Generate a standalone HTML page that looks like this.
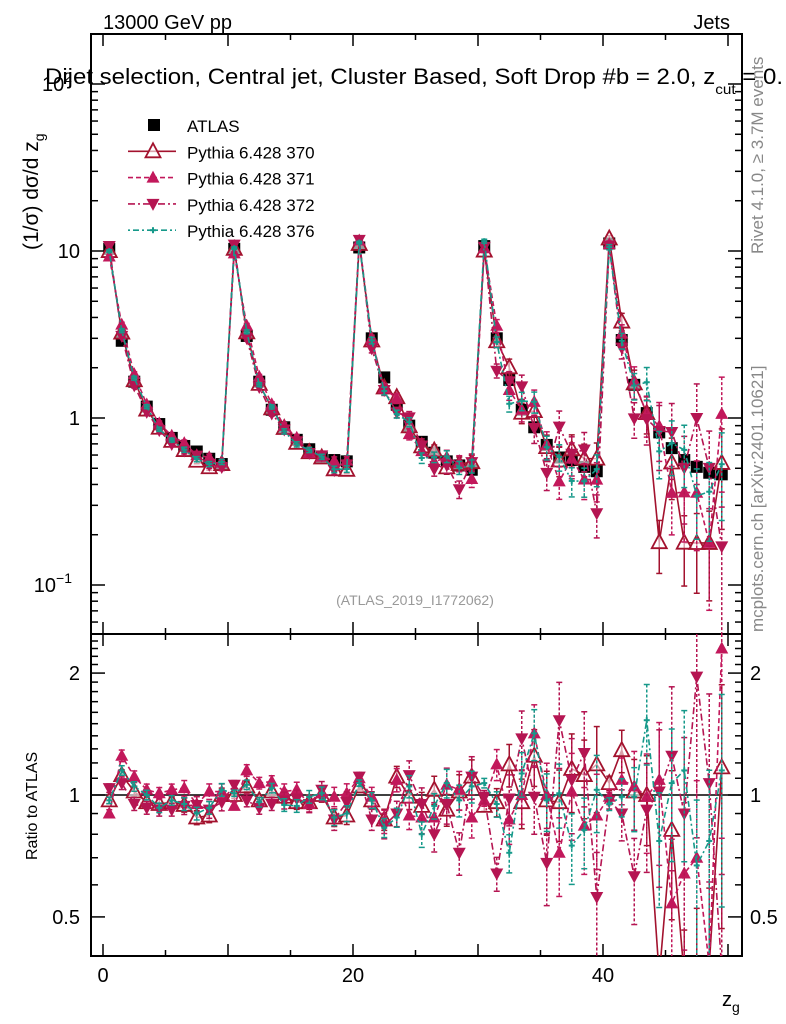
<!DOCTYPE html>
<html><head><meta charset="utf-8"><style>
html,body{margin:0;padding:0;background:#fff;width:786px;height:1024px;overflow:hidden}
svg{display:block;font-family:"Liberation Sans",sans-serif}
</style></head><body>
<svg id="chart" width="786" height="1024" viewBox="0 0 786 1024" xmlns="http://www.w3.org/2000/svg">
<defs>
<clipPath id="cm"><rect x="91" y="34" width="651" height="600"/></clipPath>
<clipPath id="cr"><rect x="91" y="634" width="651" height="322"/></clipPath>
</defs>
<text x="103" y="29" font-size="20">13000 GeV pp</text>
<text x="730" y="29" font-size="20" text-anchor="end">Jets</text>
<g id="axes"></g>
<g id="main" clip-path="url(#cm)"></g>
<g id="ratio" clip-path="url(#cr)"></g>
<text x="45" y="84" font-size="22" textLength="738" lengthAdjust="spacingAndGlyphs">Dijet selection, Central jet, Cluster Based, Soft Drop #b = 2.0, z<tspan font-size="14" dy="10">cut</tspan><tspan dy="-10"> = 0.</tspan></text>
<text transform="translate(38,250) rotate(-90)" font-size="21">(1/σ) dσ/d z<tspan font-size="14" dy="6">g</tspan></text>
<text transform="translate(37,860) rotate(-90)" font-size="16">Ratio to ATLAS</text>
<text x="722" y="1006" font-size="20">z<tspan font-size="14" dy="6">g</tspan></text>
<text transform="translate(763,254) rotate(-90)" font-size="17" fill="#888">Rivet 4.1.0, ≥ 3.7M events</text>
<text transform="translate(763,632) rotate(-90)" font-size="17" fill="#888">mcplots.cern.ch [arXiv:2401.10621]</text>
<text x="415" y="605" font-size="14" fill="#999" text-anchor="middle">(ATLAS_2019_I1772062)</text>
<g id="legend"></g>
</svg>
<script>
const bins = Array.from({length:50},(_, i)=>i+0.5);
const atlas = [10.3,2.9,1.65,1.17,0.92,0.76,0.68,0.63,0.57,0.53,
 10.3,3.1,1.65,1.12,0.88,0.74,0.65,0.58,0.56,0.55,
 10.5,3.0,1.75,1.2,0.9,0.72,0.62,0.55,0.52,0.49,
 10.7,3.0,1.69,1.12,0.88,0.69,0.58,0.56,0.51,0.48,
 11.1,2.93,1.58,1.07,0.82,0.66,0.56,0.51,0.47,0.46];
const r370 = [0.97,1.12,1.02,0.96,0.95,0.96,0.945,0.88,0.89,1.0,
 1.0,1.05,0.97,1.02,0.99,0.96,0.96,1.0,0.88,0.89,
 1.05,0.97,0.87,1.11,0.99,0.94,1.03,0.92,1.02,1.11,
 0.94,0.96,1.19,0.96,1.25,0.97,0.96,1.16,1.12,1.19,
 1.07,1.29,1.02,1.0,0.22,0.82,0.32,0.35,0.38,1.17];
const r371 = [0.9,1.25,1.11,1.03,1.01,1.03,1.04,0.95,1.02,1.02,
 0.94,1.15,1.07,1.08,1.02,1.03,0.95,1.01,0.99,1.01,
 1.1,0.99,0.86,1.09,0.89,0.88,0.88,1.06,1.03,0.88,
 0.97,1.19,0.87,1.0,1.42,1.0,0.72,1.02,0.84,0.89,
 0.99,1.09,1.05,0.99,1.09,0.54,0.64,0.7,0.38,2.3];
const r372 = [1.04,1.07,0.95,0.93,0.92,0.92,0.94,0.945,0.92,0.96,
 1.06,0.97,0.93,0.95,0.97,0.98,0.95,1.03,0.87,0.96,
 1.11,0.87,0.84,0.9,1.12,0.95,0.8,0.95,0.72,1.11,
 0.99,0.64,0.98,1.38,0.99,0.68,1.53,1.09,1.27,0.56,
 0.97,0.9,0.63,0.92,1.02,1.25,0.9,1.96,1.07,0.37];
const r376 = [0.97,1.15,1.05,1.0,0.93,0.97,0.95,0.9,0.93,1.03,
 1.01,1.06,0.96,1.04,0.945,0.94,0.99,1.01,0.88,0.9,
 1.07,0.97,0.83,0.88,1.05,0.8,0.94,1.07,0.97,1.05,
 1.07,0.95,0.72,1.13,1.42,0.97,1.01,0.75,0.82,1.03,
 0.95,0.99,0.99,1.53,0.77,1.07,1.15,0.67,0.77,1.15];
const mcErr = [0.02,0.03,0.03,0.03,0.03,0.03,0.04,0.04,0.04,0.04,
 0.02,0.03,0.03,0.03,0.04,0.04,0.04,0.04,0.05,0.05,
 0.02,0.05,0.06,0.06,0.07,0.08,0.08,0.09,0.1,0.1,
 0.03,0.08,0.12,0.14,0.16,0.18,0.2,0.22,0.22,0.24,
 0.04,0.12,0.2,0.25,0.35,0.4,0.45,0.5,0.55,0.6];
const xTicks = [0,20,40];
const yTicksMain = [[100,'10','2'],[10,'10',''],[1,'1',''],[0.1,'10','−1']];
const yTicksRatio = [[2,'2'],[1,'1'],[0.5,'0.5']];

const NS='http://www.w3.org/2000/svg';
const X0=91,X1=742,MT=34,MB=634,RT=634,RB=956;
const xs=v=>103+12.5*v;
const ymRaw=v=>418-167*Math.log10(v);
const yrRaw=v=>795-405*Math.log10(v);
const ym=v=>Math.min(MB+20,Math.max(MT-20,ymRaw(Math.max(v,1e-4))));
const yr=v=>Math.min(RB+20,Math.max(RT-20,yrRaw(Math.max(v,1e-4))));
function mk(tag,attrs,parent){const e=document.createElementNS(NS,tag);for(const k in attrs)e.setAttribute(k,attrs[k]);parent.appendChild(e);return e;}
const axes=document.getElementById('axes'),main=document.getElementById('main'),ratio=document.getElementById('ratio');

let f1=mk('rect',{x:X0,y:MT,width:X1-X0,height:MB-MT,fill:'none',stroke:'#000','stroke-width':2},axes);


let f2=mk('rect',{x:X0,y:RT,width:X1-X0,height:RB-RT,fill:'none',stroke:'#000','stroke-width':2},axes);


for(let v=0;v<=50;v+=5){const x=xs(v);const L=(v%10===0)?12:6;
 [[MT,MT+L],[MB,MB-L],[RT,RT+L],[RB,RB-L]].forEach(p=>mk('line',{x1:x,x2:x,y1:p[0],y2:p[1],stroke:'#000','stroke-width':1.5},axes));}
xTicks.forEach(v=>{const t=mk('text',{x:xs(v),y:982,'font-size':20,'text-anchor':'middle'},axes);t.textContent=v;
 
 });
for(let d=-2;d<=2;d++)for(let m=1;m<10;m++){const v=m*Math.pow(10,d);const y=ymRaw(v);if(y<MT||y>MB)continue;const L=m===1?14:7;
 mk('line',{x1:X0,x2:X0+L,y1:y,y2:y,stroke:'#000','stroke-width':1.5},axes);mk('line',{x1:X1,x2:X1-L,y1:y,y2:y,stroke:'#000','stroke-width':1.5},axes);}
yTicksMain.forEach(t=>{const e=mk('text',{x:t[2]?72:80,y:ymRaw(t[0])+7,'font-size':20,'text-anchor':'end'},axes);e.textContent=t[1];
 if(t[2]){const s=mk('tspan',{dy:-9,'font-size':14},e);s.textContent=t[2];}
 
 });
for(let v=0.4;v<=2.5;v+=0.1){const y=yrRaw(v);const big=Math.abs(v-Math.round(v))<1e-6||Math.abs(v-0.5)<1e-6;const L=big?14:7;
 mk('line',{x1:X0,x2:X0+L,y1:y,y2:y,stroke:'#000','stroke-width':1.5},axes);mk('line',{x1:X1,x2:X1-L,y1:y,y2:y,stroke:'#000','stroke-width':1.5},axes);}
yTicksRatio.forEach(t=>{[[80,'end'],[750,'start']].forEach(p=>{const e=mk('text',{x:p[0],y:yrRaw(t[0])+7,'font-size':20,'text-anchor':p[1]},axes);e.textContent=t[1];
 
 });});
let ul=mk('line',{x1:X0,x2:X1,y1:yrRaw(1),y2:yrRaw(1),stroke:'#000','stroke-width':1.5},ratio);



function marker(g,type,x,y,c){
 if(type==='sq'){return mk('rect',{x:x-6,y:y-6,width:12,height:12,fill:'#000'},g);}
 if(type==='open')return mk('path',{d:`M${x},${y-8}L${x+7.5},${y+6}L${x-7.5},${y+6}Z`,fill:'#fff','fill-opacity':0.6,stroke:c,'stroke-width':1.8},g);
 if(type==='up')return mk('path',{d:`M${x},${y-7}L${x+6.5},${y+5}L${x-6.5},${y+5}Z`,fill:c},g);
 if(type==='down')return mk('path',{d:`M${x},${y+7}L${x+6.5},${y-5}L${x-6.5},${y-5}Z`,fill:c},g);
 if(type==='cross'){mk('line',{x1:x-3,x2:x+3,y1:y,y2:y,stroke:c,'stroke-width':2},g);return mk('line',{x1:x,x2:x,y1:y-3,y2:y+3,stroke:c,'stroke-width':2},g);}
}
const series=[
 {name:'370',r:r370,c:'#a3122e',dash:'',m:'open',ef:1.0},
 {name:'371',r:r371,c:'#c2185b',dash:'5,3',m:'up',ef:1.1},
 {name:'372',r:r372,c:'#b51552',dash:'7,3,2,3',m:'down',ef:1.2},
 {name:'376',r:r376,c:'#16998a',dash:'2,3,6,3',m:'cross',ef:0.9}];
function drawSeries(s,panel,yf,valf){
 const g=mk('g',{},panel);
 
 
 const pts=bins.map((b,i)=>[xs(b),yf(valf(i))]);
 mk('polyline',{points:pts.map(p=>p.join(',')).join(' '),fill:'none',stroke:s.c,'stroke-width':1.6,'stroke-dasharray':s.dash},g);
 bins.forEach((b,i)=>{const v=valf(i),e=Math.min(mcErr[i]*s.ef,0.95);const x=xs(b);
  const y1=yf(v*(1+e)),y2=yf(v*(1-e));
  mk('line',{x1:x,x2:x,y1:y1,y2:y2,stroke:s.c,'stroke-width':1.5,'stroke-dasharray':s.dash?'3,2':''},g);
  mk('line',{x1:x-3,x2:x+3,y1:y1,y2:y1,stroke:s.c,'stroke-width':1.5},g);
  mk('line',{x1:x-3,x2:x+3,y1:y2,y2:y2,stroke:s.c,'stroke-width':1.5},g);
  const m=marker(g,s.m,x,yf(v),s.c);
  
  });
}
const dg=mk('g',{},main);


bins.forEach((b,i)=>{const m=marker(dg,'sq',xs(b),ym(atlas[i]));
 
 });
series.forEach(s=>{drawSeries(s,main,ym,i=>atlas[i]*s.r[i]);drawSeries(s,ratio,yr,i=>s.r[i]);});
const lg=document.getElementById('legend');
const le=[['ATLAS',null],['Pythia 6.428 370',series[0]],['Pythia 6.428 371',series[1]],['Pythia 6.428 372',series[2]],['Pythia 6.428 376',series[3]]];
le.forEach((l,k)=>{const y=125+26.3*k;const g=mk('g',{},lg);
 
 
 if(!l[1])marker(g,'sq',154,y);
 else{mk('line',{x1:128,x2:176,y1:y,y2:y,stroke:l[1].c,'stroke-width':1.6,'stroke-dasharray':l[1].dash},g);marker(g,l[1].m,153,y,l[1].c);}
 const t=mk('text',{x:187,y:y+7,'font-size':17},g);t.textContent=l[0];});
</script>
</body></html>
